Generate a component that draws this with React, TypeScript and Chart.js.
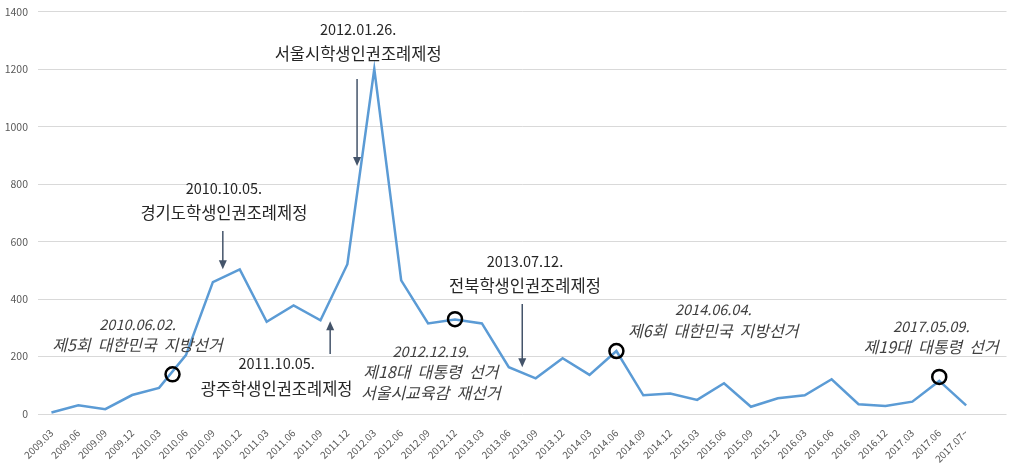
import React, { useEffect, useRef } from 'react';
import { Chart, registerables } from 'chart.js';

Chart.register(...registerables);

const categories = [
  '2009.03', '2009.06', '2009.09', '2009.12', '2010.03', '2010.06', '2010.09', '2010.12',
  '2011.03', '2011.06', '2011.09', '2011.12', '2012.03', '2012.06', '2012.09', '2012.12',
  '2013.03', '2013.06', '2013.09', '2013.12', '2014.03', '2014.06', '2014.09', '2014.12',
  '2015.03', '2015.06', '2015.09', '2015.12', '2016.03', '2016.06', '2016.09', '2016.12',
  '2017.03', '2017.06', '2017.07~',
];

const counts = [
  5, 30, 17, 66, 91, 205, 459, 503,
  321, 378, 326, 521, 1200, 465, 315, 329,
  315, 163, 124, 194, 136, 219, 65, 71,
  49, 107, 25, 55, 65, 121, 34, 28,
  43, 115, 30,
];

// event markers (open circles): position in category-index units and value units
const markerX = [4.5, 15, 21, 33];
const markerY = [138, 330, 219, 129];

// arrows: x in category-index units, from/to in value units
const arrowX = [6.37, 10.36, 11.36, 17.5];
const arrowFrom = [637, 209, 1165, 383];
const arrowTo = [504, 323, 863, 163];

// notes: x in category-index units, y (first line) in value units
const noteX = [3.2, 6.41, 8.37, 11.4, 14.1, 17.6, 24.6, 32.7];
const noteY = [313, 786, 174, 1339, 216, 532, 362, 306];
const noteLines = [
  ['2010.06.02.', '제5회  대한민국  지방선거'],
  ['2010.10.05.', '경기도학생인권조례제정'],
  ['2011.10.05.', '광주학생인권조례제정'],
  ['2012.01.26.', '서울시학생인권조례제정'],
  ['2012.12.19.', '제18대  대통령  선거', '서울시교육감  재선거'],
  ['2013.07.12.', '전북학생인권조례제정'],
  ['2014.06.04.', '제6회  대한민국  지방선거'],
  ['2017.05.09.', '제19대  대통령  선거'],
];
const noteItalic = [true, false, false, false, true, false, true, true];

const FONT = "'Noto Sans CJK KR', 'Noto Sans', sans-serif";

const notesPlugin = {
  id: 'notes',
  afterDatasetsDraw(chart: any) {
    const ctx = chart.ctx;
    const xs = chart.scales.xm;
    const ys = chart.scales.y;
    ctx.save();
    // arrows
    ctx.strokeStyle = '#44546a';
    ctx.fillStyle = '#44546a';
    ctx.lineWidth = 1.5;
    for (let i = 0; i < arrowX.length; i++) {
      const x = xs.getPixelForValue(arrowX[i]);
      const y1 = ys.getPixelForValue(arrowFrom[i]);
      const y2 = ys.getPixelForValue(arrowTo[i]);
      const dir = y2 > y1 ? 1 : -1;
      ctx.beginPath();
      ctx.moveTo(x, y1);
      ctx.lineTo(x, y2 - dir * 8);
      ctx.stroke();
      ctx.beginPath();
      ctx.moveTo(x, y2);
      ctx.lineTo(x - 4, y2 - dir * 9);
      ctx.lineTo(x + 4, y2 - dir * 9);
      ctx.closePath();
      ctx.fill();
    }
    // texts
    ctx.textAlign = 'center';
    ctx.textBaseline = 'middle';
    for (let i = 0; i < noteX.length; i++) {
      const x = xs.getPixelForValue(noteX[i]);
      const y0 = ys.getPixelForValue(noteY[i]);
      const italic = noteItalic[i];
      const lh = italic ? 20.5 : 24.5;
      ctx.fillStyle = italic ? '#404040' : '#262626';
      noteLines[i].forEach((t, j) => {
        ctx.font = `${italic ? 'italic ' : ''}${j === 0 ? 14.5 : italic ? 16 : 16.5}px ${FONT}`;
        ctx.fillText(t, x, y0 + j * lh);
      });
    }
    ctx.restore();
  },
};

export default function App() {
  const ref = useRef<HTMLCanvasElement | null>(null);
  useEffect(() => {
    if (!ref.current) return;
    const labels = [...categories, ''];
    const chart = new Chart(ref.current, {
      type: 'line',
      data: {
        labels,
        datasets: [
          {
            data: markerX.map((x, i) => ({ x, y: markerY[i] })),
            xAxisID: 'xm',
            showLine: false,
            pointRadius: 7,
            pointBorderWidth: 2.5,
            pointBorderColor: '#000000',
            pointBackgroundColor: 'rgba(0,0,0,0)',
            order: 0,
          } as any,
          {
            data: [...counts, null],
            xAxisID: 'x',
            borderColor: '#5b9bd5',
            borderWidth: 2.5,
            pointRadius: 0,
            tension: 0,
            order: 1,
          },
        ],
      },
      options: {
        animation: false,
        responsive: true,
        maintainAspectRatio: false,
        layout: { padding: { top: 0, right: 4, left: 0, bottom: 0 } },
        plugins: { legend: { display: false }, tooltip: { enabled: false } },
        font: { family: FONT },
        scales: {
          x: {
            type: 'category',
            offset: true,
            grid: { display: false },
            border: { display: false },
            ticks: {
              autoSkip: false,
              minRotation: 45,
              maxRotation: 45,
              padding: 5,
              color: '#595959',
              font: { size: 10, family: FONT },
            },
            afterFit: (s: any) => { s.height = 49; },
          },
          xm: {
            type: 'linear',
            display: false,
            min: -0.5,
            max: categories.length + 0.5,
          },
          y: {
            min: 0,
            max: 1400,
            ticks: {
              stepSize: 200,
              padding: 10,
              color: '#595959',
              font: { size: 10.5, family: FONT, lineHeight: 0.3 },
              callback: (v: any) => String(v),
            },
            grid: { color: '#d9d9d9', drawTicks: false, lineWidth: 1 },
            border: { display: false },
            afterFit: (s: any) => { s.width = 38; },
          },
        },
      } as any,
      plugins: [notesPlugin],
    });
    return () => chart.destroy();
  }, []);
  return (
    <div style={{ position: 'fixed', left: 0, top: 0, width: 1016, height: 463, background: '#fff' }}>
      <canvas ref={ref} />
    </div>
  );
}
